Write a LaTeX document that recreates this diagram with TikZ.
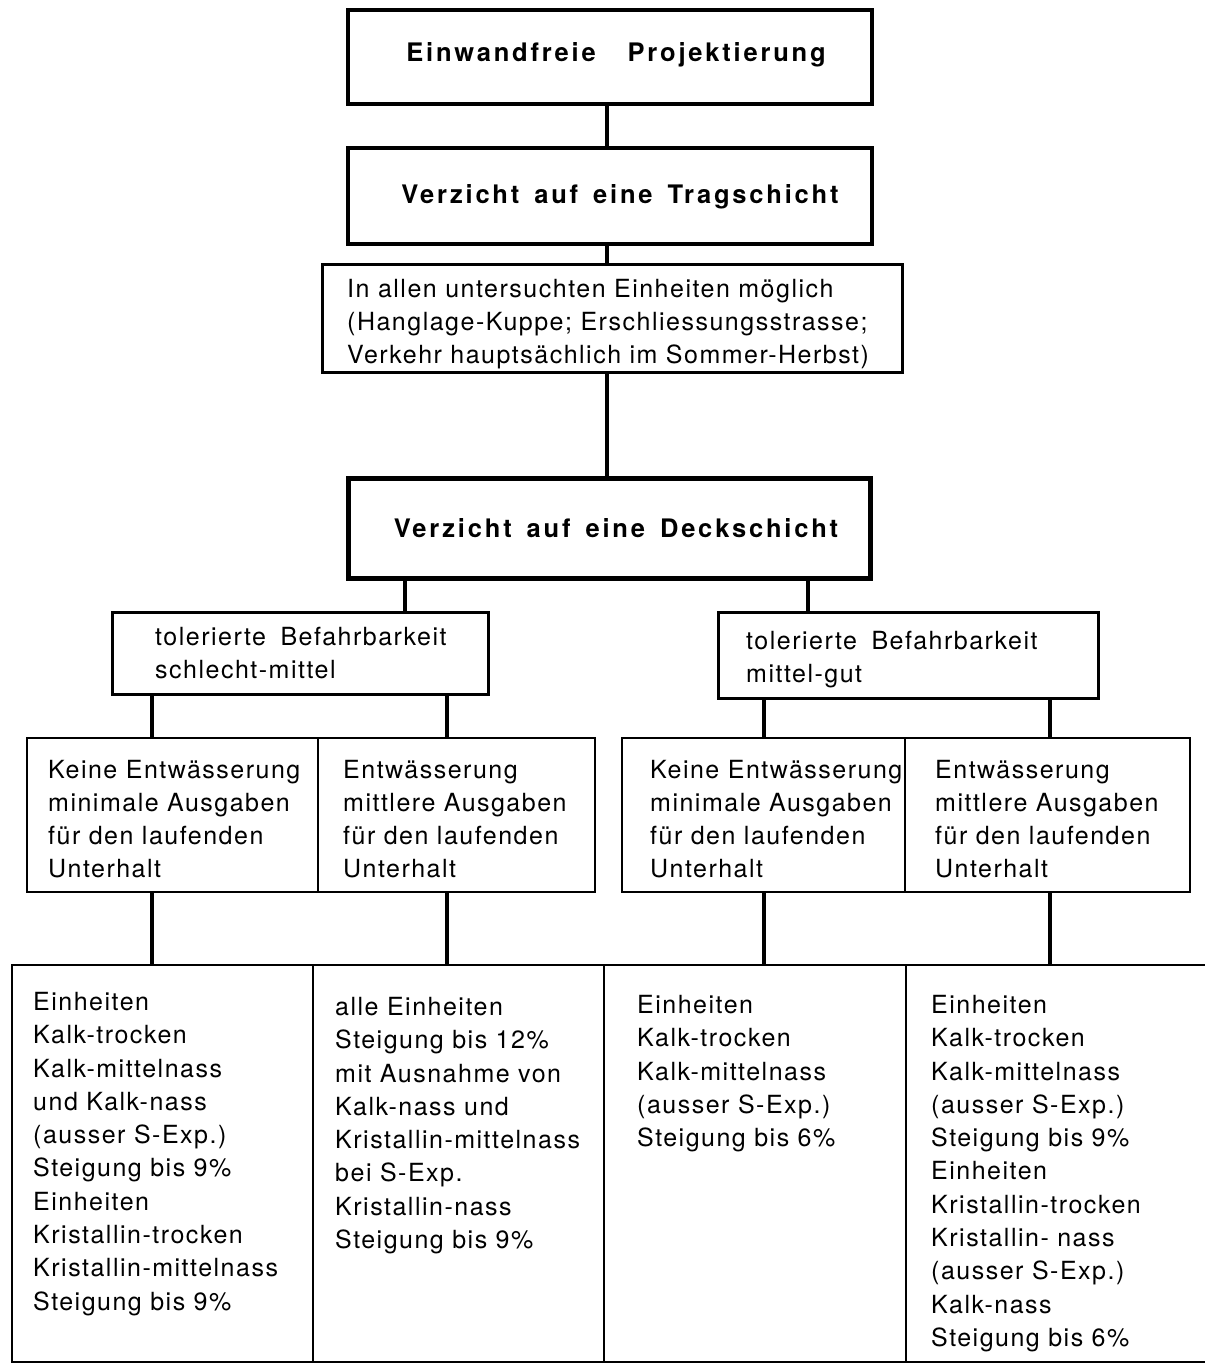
\documentclass[tikz,border=0pt]{standalone}
\usepackage{fontspec}
\setmainfont{TeX Gyre Heros}
\newfontfamily\bodyf[LetterSpace=6]{TeX Gyre Heros}
\newfontfamily\titlef[LetterSpace=11]{TeX Gyre Heros}
\newcommand\wgap{\hspace{15pt}}
\tikzset{
  frame/.style={draw, inner sep=0pt, outer sep=0pt, anchor=north west},
  heavy/.style={frame, line width=4.5pt},
  medium/.style={frame, line width=3pt},
  light/.style={frame, line width=2.5pt},
  link/.style={line width=4pt},
  body/.style={inner sep=0pt, anchor=north west, align=left,
    font=\bodyf\fontsize{25}{33}\selectfont},
  bodylong/.style={body, font=\bodyf\fontsize{25}{33.3}\selectfont},
  title/.style={inner sep=0pt, anchor=base,
    font=\titlef\bfseries\fontsize{25.5}{30}\selectfont}
}
\begin{document}
\begin{tikzpicture}[x=1pt,y=-1pt]
\useasboundingbox (0,0) rectangle (1205,1367);
\fill[white] (0,0) rectangle (1205,1367);

% boxes
\node[heavy, minimum width=524pt, minimum height=94pt] (b1) at (348,10) {};
\node[heavy, minimum width=524pt, minimum height=96pt] (b2) at (348,148) {};
\node[medium, minimum width=580pt, minimum height=108pt] (b3) at (322,264) {};
\node[heavy, line width=5pt, minimum width=522pt, minimum height=100pt] (b4) at (348,478) {};
\node[medium, minimum width=376pt, minimum height=82pt] (b5l) at (112,612) {};
\node[medium, minimum width=380pt, minimum height=86pt] (b5r) at (718,612) {};

\node[light, minimum width=291pt, minimum height=154pt] (r6a) at (27,738) {};
\node[light, minimum width=277pt, minimum height=154pt] (r6b) at (318,738) {};
\node[light, minimum width=283pt, minimum height=154pt] (r6c) at (622,738) {};
\node[light, minimum width=285pt, minimum height=154pt] (r6d) at (905,738) {};

\node[light, minimum width=301pt, minimum height=397pt] (r7a) at (12,965) {};
\node[light, minimum width=291pt, minimum height=397pt] (r7b) at (313,965) {};
\node[light, minimum width=302pt, minimum height=397pt] (r7c) at (604,965) {};
\node[inner sep=0pt, outer sep=0pt, anchor=north west, minimum width=299pt, minimum height=397pt] (r7d) at (906,965) {};
\draw[line width=2.5pt] (r7d.north west) -- (r7d.north east);
\draw[line width=2.5pt] (r7d.south west) -- (r7d.south east);

% connector positions
\coordinate (v0) at (607,0);
\coordinate (v1) at (405,0);
\coordinate (v2) at (808,0);
\coordinate (v3) at (152,0);
\coordinate (v4) at (447,0);
\coordinate (v5) at (764,0);
\coordinate (v6) at (1050,0);

\draw[link] (b1.south -| v0) -- (b2.north -| v0);
\draw[link] (b2.south -| v0) -- (b3.north -| v0);
\draw[link] (b3.south -| v0) -- (b4.north -| v0);
\draw[link] (b4.south -| v1) -- (b5l.north -| v1);
\draw[link] (b4.south -| v2) -- (b5r.north -| v2);
\draw[link] (b5l.south -| v3) -- (r6a.north -| v3);
\draw[link] (b5l.south -| v4) -- (r6b.north -| v4);
\draw[link] (b5r.south -| v5) -- (r6c.north -| v5);
\draw[link] (b5r.south -| v6) -- (r6d.north -| v6);
\draw[link] (r6a.south -| v3) -- (r7a.north -| v3);
\draw[link] (r6b.south -| v4) -- (r7b.north -| v4);
\draw[link] (r6c.south -| v5) -- (r7c.north -| v5);
\draw[link] (r6d.south -| v6) -- (r7d.north -| v6);

% texts
\node[title] (t1) at (616,62) {Einwandfreie\hspace{22pt} Projektierung};
\node[title] (t2) at (620,204) {Verzicht\wgap auf\wgap eine\wgap Tragschicht};
\node[title] (t4) at (616,537) {Verzicht\wgap auf\wgap eine\wgap Deckschicht};

\node[body] (t3) at (347,279) {In allen untersuchten Einheiten möglich\\(Hanglage-Kuppe; Erschliessungsstrasse;\\Verkehr hauptsächlich im Sommer-Herbst)};
\node[body] (t5l) at (155,627) {tolerierte\hspace{6pt} Befahrbarkeit\\schlecht-mittel};
\node[body] (t5r) at (746,631) {tolerierte\hspace{6pt} Befahrbarkeit\\mittel-gut};

\node[body] (t6a) at (48,760) {Keine Entwässerung\\minimale Ausgaben\\für den laufenden\\Unterhalt};
\node[body] (t6b) at (343,760) {Entwässerung\\mittlere Ausgaben\\für den laufenden\\Unterhalt};
\node[body] (t6c) at (650,760) {Keine Entwässerung\\minimale Ausgaben\\für den laufenden\\Unterhalt};
\node[body] (t6d) at (935,760) {Entwässerung\\mittlere Ausgaben\\für den laufenden\\Unterhalt};

\node[bodylong] (t7a) at (33,992) {Einheiten\\Kalk-trocken\\Kalk-mittelnass\\und Kalk-nass\\(ausser S-Exp.)\\Steigung bis 9\%\\Einheiten\\Kristallin-trocken\\Kristallin-mittelnass\\Steigung bis 9\%};
\node[bodylong] (t7b) at (335,997) {alle Einheiten\\Steigung bis 12\%\\mit Ausnahme von\\Kalk-nass und\\Kristallin-mittelnass\\bei S-Exp.\\Kristallin-nass\\Steigung bis 9\%};
\node[bodylong] (t7c) at (637,995) {Einheiten\\Kalk-trocken\\Kalk-mittelnass\\(ausser S-Exp.)\\Steigung bis 6\%};
\node[bodylong] (t7d) at (931,995) {Einheiten\\Kalk-trocken\\Kalk-mittelnass\\(ausser S-Exp.)\\Steigung bis 9\%\\Einheiten\\Kristallin-trocken\\Kristallin- nass\\(ausser S-Exp.)\\Kalk-nass\\Steigung bis 6\%};
\end{tikzpicture}
\end{document}
